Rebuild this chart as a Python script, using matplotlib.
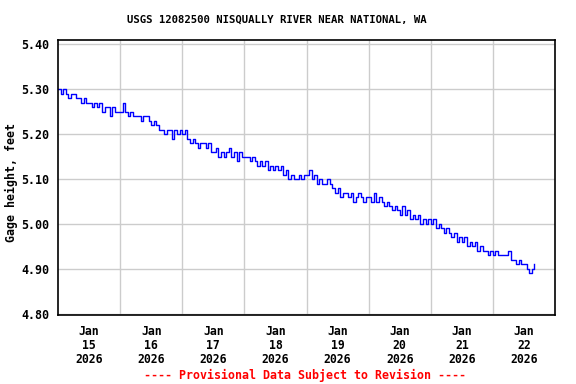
import numpy as np
import pandas as pd
import matplotlib
matplotlib.use("Agg")
import matplotlib.pyplot as plt

# hourly gage height readings (feet)
jan15 = [5.30, 5.29, 5.30, 5.29, 5.28, 5.29, 5.29, 5.28, 5.28, 5.27, 5.28, 5.27,
         5.27, 5.26, 5.27, 5.26, 5.27, 5.25, 5.26, 5.26, 5.24, 5.26, 5.25, 5.25]
jan16 = [5.25, 5.27, 5.25, 5.24, 5.25, 5.24, 5.24, 5.24, 5.23, 5.24, 5.24, 5.23,
         5.22, 5.23, 5.22, 5.21, 5.21, 5.20, 5.21, 5.21, 5.19, 5.21, 5.20, 5.21]
jan17 = [5.20, 5.21, 5.19, 5.18, 5.19, 5.18, 5.17, 5.18, 5.18, 5.17, 5.18, 5.16,
         5.16, 5.17, 5.15, 5.16, 5.15, 5.16, 5.17, 5.15, 5.16, 5.14, 5.16, 5.15]
jan18 = [5.15, 5.15, 5.14, 5.15, 5.14, 5.13, 5.14, 5.13, 5.14, 5.12, 5.13, 5.12,
         5.13, 5.12, 5.13, 5.11, 5.12, 5.10, 5.11, 5.10, 5.10, 5.11, 5.10, 5.11]
jan19 = [5.11, 5.12, 5.10, 5.11, 5.09, 5.10, 5.09, 5.09, 5.10, 5.09, 5.08, 5.07,
         5.08, 5.06, 5.07, 5.07, 5.06, 5.07, 5.05, 5.06, 5.07, 5.06, 5.05, 5.06]
jan20 = [5.06, 5.05, 5.07, 5.05, 5.06, 5.05, 5.04, 5.05, 5.04, 5.03, 5.04, 5.03,
         5.02, 5.04, 5.02, 5.03, 5.01, 5.02, 5.01, 5.02, 5.00, 5.01, 5.00, 5.01]
jan21 = [5.00, 5.01, 4.99, 5.00, 4.99, 4.98, 4.99, 4.98, 4.97, 4.98, 4.96, 4.97,
         4.96, 4.97, 4.95, 4.96, 4.95, 4.96, 4.94, 4.95, 4.94, 4.94, 4.93, 4.94]
jan22 = [4.93, 4.94, 4.93, 4.93, 4.93, 4.93, 4.94, 4.92, 4.92, 4.91, 4.92, 4.91,
         4.91, 4.90, 4.89, 4.90, 4.91]

gage = np.array(jan15 + jan16 + jan17 + jan18 + jan19 + jan20 + jan21 + jan22)
times = pd.date_range("2026-01-15 00:00", periods=len(gage), freq="h")

day_labels = ["Jan\n15\n2026", "Jan\n16\n2026", "Jan\n17\n2026", "Jan\n18\n2026",
              "Jan\n19\n2026", "Jan\n20\n2026", "Jan\n21\n2026", "Jan\n22\n2026"]
y_ticks = [4.80, 4.90, 5.00, 5.10, 5.20, 5.30, 5.40]

plt.rcParams["font.family"] = "DejaVu Sans Mono"
plt.rcParams["font.weight"] = "bold"

fig = plt.figure(figsize=(5.76, 3.84), dpi=100)
ax = fig.add_axes([58 / 576, 1 - 315 / 384, 497 / 576, 275 / 384])

ax.plot(times, gage, color="#0000ff", linewidth=1.0, drawstyle="steps-post")

midnights = pd.date_range("2026-01-15", "2026-01-23", freq="D")
noons = midnights[:-1] + pd.Timedelta(hours=12)
ax.set_xlim(midnights[0], midnights[-1])
ax.set_ylim(4.797, 5.41)

ax.set_xticks(noons)
ax.set_xticklabels(day_labels, fontsize=8.3, fontweight="bold", linespacing=1.1)
ax.set_xticks(midnights[1:-1], minor=True)
ax.set_yticks(y_ticks)
ax.set_yticklabels([f"{v:.2f}" for v in y_ticks], fontsize=8.4, fontweight="bold")

ax.tick_params(axis="x", which="both", length=0, pad=7)
ax.tick_params(axis="y", length=0, pad=6)
ax.grid(True, axis="x", which="minor", color="#cccccc", linewidth=1)
ax.grid(True, axis="y", which="major", color="#cccccc", linewidth=1)
ax.set_axisbelow(True)
for s in ax.spines.values():
    s.set_linewidth(1.2)

ax.set_ylabel("Gage height, feet", fontsize=8.4, fontweight="bold")
ax.yaxis.set_label_coords(-0.08, 0.48)

fig.text(277 / 576, 1 - 20 / 384, "USGS 12082500 NISQUALLY RIVER NEAR NATIONAL, WA",
         ha="center", va="center", fontsize=7.7, fontweight="bold")
fig.text(305 / 576, 1 - 375 / 384, "---- Provisional Data Subject to Revision ----",
         ha="center", va="center", fontsize=8.4, fontweight="bold", color="#ff0000")

fig.savefig("out.png", dpi=100)
